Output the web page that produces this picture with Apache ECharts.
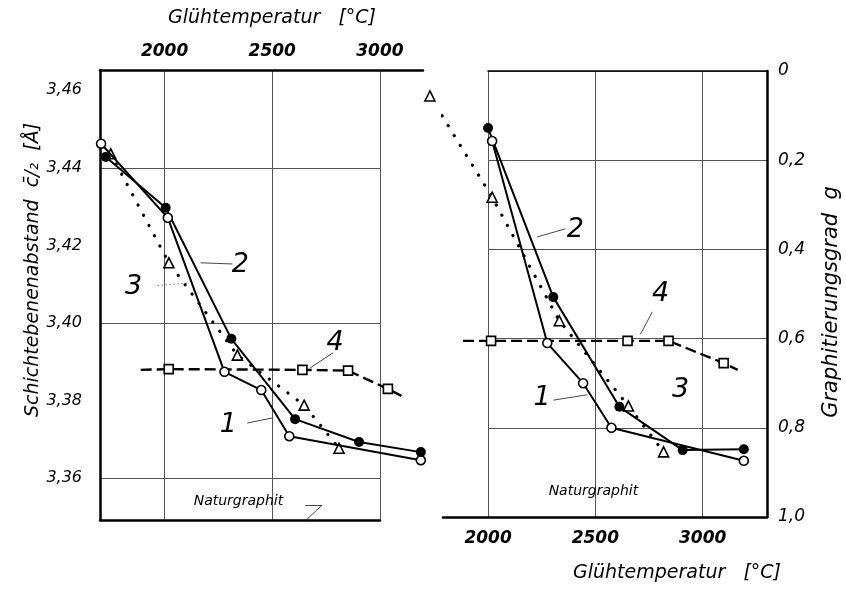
<!DOCTYPE html>
<html><head><meta charset="utf-8">
<script src="https://cdn.jsdelivr.net/npm/echarts@6/dist/echarts.min.js"></script>
<style>html,body{margin:0;padding:0;background:#fff}#c{width:846px;height:589px}</style>
</head><body><div id="c"></div>
<script>
// ---- Left panel: Schichtebenenabstand c/2 [Å] vs Glühtemperatur [°C]
const leftT1 = [1705, 2015, 2278, 2449, 2579, 3190];
const leftC1 = [3.4462, 3.4271, 3.3874, 3.3827, 3.3708, 3.3646];
const leftT2 = [1727, 2005, 2310, 2606, 2903, 3190];
const leftC2 = [3.4428, 3.4297, 3.3959, 3.3752, 3.3693, 3.3667];
const leftT3 = [1750, 2020, 2338, 2648, 2810];
const leftC3 = [3.4436, 3.4155, 3.3917, 3.3788, 3.3677];
const leftT4 = [1889, 2019, 2640, 2852, 3037, 3100];
const leftC4 = [3.3879, 3.3881, 3.3879, 3.3877, 3.3830, 3.3812];
const leftM4 = [false, true, true, true, true, false];
// ---- Right panel: Graphitierungsgrad g vs Glühtemperatur [°C]
const rightT1 = [2019, 2276, 2443, 2575, 3192];
const rightG1 = [0.157, 0.61, 0.70, 0.80, 0.874];
const rightT2 = [2000, 2304, 2612, 2907, 3192];
const rightG2 = [0.128, 0.507, 0.753, 0.85, 0.848];
const rightT3 = [1729, 2019, 2332, 2654, 2818];
const rightG3 = [0.056, 0.283, 0.56, 0.751, 0.854];
const rightT4 = [1883, 2014, 2650, 2841, 3098, 3163];
const rightG4 = [0.605, 0.605, 0.605, 0.605, 0.655, 0.67];
const rightM4 = [false, true, true, true, true, false];
// ---- Tick labels
const tempTicks = [2000, 2500, 3000];
const cTicks = [3.36, 3.38, 3.40, 3.42, 3.44, 3.46];
const cGridValues = [3.36, 3.40, 3.44];
const gInterval = 0.2;

const FONT = 'DejaVu Sans';
const pairs = (xs, ys) => xs.map((x, i) => [x, ys[i]]);
const comma = (v, d) => v.toFixed(d).replace('.', ',');

// annotation anchors (data coordinates)
const leftNotes = [
  {text: '1', at: [2296, 3.3737], from: [2384, 3.3742], to: [2500, 3.3755], dotted: false},
  {text: '2', at: [2352, 3.4150], from: [2167, 3.4155], to: [2315, 3.4152], dotted: false},
  {text: '3', at: [1856, 3.4093], from: [1968, 3.4096], to: [2106, 3.4103], dotted: true},
  {text: '4', at: [2792, 3.3948], from: [2676, 3.3884], to: [2782, 3.3923], dotted: false}
];
const leftNatur = {at: [2343, 3.3541], hook: [[2653, 3.3530], [2731, 3.3530], [2657, 3.3492]]};
const rightNotes = [
  {text: '1', at: [2252, 0.733], from: [2304, 0.738], to: [2463, 0.726], dotted: false},
  {text: '2', at: [2407, 0.3565], from: [2229, 0.372], to: [2360, 0.354], dotted: false},
  {text: '3', at: [2897, 0.715], from: null, to: null, dotted: false},
  {text: '4', at: [2804, 0.50], from: [2710, 0.59], to: [2766, 0.54], dotted: false}
];
const rightNatur = {at: [2491, 0.942]};

function notesMarkPoint(notes, natur) {
  const data = notes.map(n => ({coord: n.at, name: n.text,
    label: {formatter: n.text, fontSize: 27, fontStyle: 'italic', fontFamily: FONT, color: '#000'}}));
  data.push({coord: natur.at, name: 'Naturgraphit',
    label: {formatter: 'Naturgraphit', fontSize: 14, fontStyle: 'italic', fontFamily: FONT, color: '#000'}});
  return {symbol: 'circle', symbolSize: 0, silent: true, label: {show: true, position: 'inside'}, data};
}
function notesMarkLine(notes, natur) {
  const data = [];
  notes.forEach(n => {
    if (n.from) data.push([{coord: n.from, lineStyle: {type: n.dotted ? [1, 3] : 'solid'}}, {coord: n.to}]);
  });
  if (natur.hook) {
    data.push([{coord: natur.hook[0]}, {coord: natur.hook[1]}]);
    data.push([{coord: natur.hook[1]}, {coord: natur.hook[2]}]);
  }
  return {symbol: ['none', 'none'], silent: true, label: {show: false},
    lineStyle: {color: '#333', width: 0.9, type: 'solid'}, emphasis: {disabled: true}, data};
}

const openStyle = {color: '#fff', borderColor: '#000', borderWidth: 1.6};
const solidLine = {color: '#000', width: 2};
const dotLine = {color: '#000', width: 3.2, type: [0.1, 11.5], cap: 'round'};
const dashLine = {color: '#000', width: 2.4, type: [11, 5]};

function panelSeries(gi, T1, Y1, T2, Y2, T3, Y3, T4, Y4, M4, notes, natur) {
  return [
    {type: 'line', xAxisIndex: gi, yAxisIndex: gi, data: pairs(T1, Y1), symbol: 'circle', symbolSize: 9,
      itemStyle: openStyle, lineStyle: solidLine, z: 4, clip: false,
      markPoint: notesMarkPoint(notes, natur), markLine: notesMarkLine(notes, natur)},
    {type: 'line', xAxisIndex: gi, yAxisIndex: gi, data: pairs(T2, Y2), symbol: 'circle', symbolSize: 10,
      itemStyle: {color: '#000'}, lineStyle: solidLine, z: 4, clip: false},
    {type: 'line', xAxisIndex: gi, yAxisIndex: gi, data: pairs(T3, Y3), symbol: 'triangle', symbolSize: 10,
      itemStyle: openStyle, lineStyle: dotLine, z: 3, clip: false},
    {type: 'line', xAxisIndex: gi, yAxisIndex: gi,
      data: T4.map((t, i) => ({value: [t, Y4[i]], symbol: M4[i] ? 'rect' : 'none'})),
      symbol: 'rect', symbolSize: 9, itemStyle: openStyle, lineStyle: dashLine, z: 3, clip: false}
  ];
}

const gridLine = {show: true, lineStyle: {color: '#555', width: 1}};
const thick = {show: true, onZero: false, lineStyle: {color: '#000', width: 2.5}};
const nameStyle = {fontFamily: FONT, fontStyle: 'italic', color: '#000'};
const tempLabel = {customValues: tempTicks, formatter: v => String(v), fontSize: 17, fontWeight: 'bold',
  fontStyle: 'italic', fontFamily: FONT, color: '#000'};

const option = {
  animation: false,
  backgroundColor: '#fff',
  grid: [
    {left: 100, top: 70, width: 323, height: 450},
    {left: 100, top: 70, width: 280, height: 450},
    {left: 443, top: 71, width: 324, height: 446},
    {left: 488, top: 71, width: 279, height: 446}
  ],
  xAxis: [
    {gridIndex: 0, type: 'value', position: 'top', min: 1700, max: 3200,
      axisLine: thick, axisTick: {show: false}, splitLine: {show: false},
      axisLabel: Object.assign({margin: 10}, tempLabel),
      name: 'Glühtemperatur   [°C]', nameLocation: 'middle', nameGap: 42,
      nameTextStyle: Object.assign({fontSize: 19, padding: [0, 0, 0, 21]}, nameStyle)},
    {gridIndex: 1, type: 'value', position: 'bottom', min: 1700, max: 3000,
      axisLine: thick, axisTick: {show: false, customValues: tempTicks}, axisLabel: {show: false}, splitLine: gridLine},
    {gridIndex: 2, type: 'value', position: 'bottom', min: 1790, max: 3300,
      axisLine: thick, axisTick: {show: false}, splitLine: {show: false},
      axisLabel: Object.assign({margin: 13}, tempLabel),
      name: 'Glühtemperatur   [°C]', nameLocation: 'middle', nameGap: 47,
      nameTextStyle: Object.assign({fontSize: 19, padding: [0, 0, 0, 144]}, nameStyle)},
    {gridIndex: 3, type: 'value', position: 'top', min: 2000, max: 3300, interval: 500,
      axisLine: {show: true, onZero: false, lineStyle: {color: '#000', width: 1.5}},
      axisTick: {show: false}, axisLabel: {show: false}, splitLine: gridLine}
  ],
  yAxis: [
    {gridIndex: 0, type: 'value', min: 3.3492, max: 3.4652,
      axisLine: {show: false}, axisTick: {show: false}, splitLine: {show: false},
      axisLabel: {customValues: cTicks, formatter: v => comma(v, 2), fontSize: 16, fontStyle: 'italic', fontFamily: FONT, color: '#000', margin: 18},
      name: 'Schichtebenenabstand  c\u0304/\u2082  [Å]', nameLocation: 'middle', nameRotate: 90, nameGap: 57,
      nameTextStyle: Object.assign({fontSize: 19, padding: [0, 0, 0, 50]}, nameStyle)},
    {gridIndex: 1, type: 'value', min: 3.3492, max: 3.4652,
      axisLine: thick, axisTick: {show: false, customValues: cGridValues}, axisLabel: {show: false}, splitLine: gridLine},
    {gridIndex: 2, type: 'value', position: 'right', min: 0, max: 1, interval: gInterval, inverse: true,
      axisLine: thick, axisTick: {show: false}, splitLine: {show: false},
      axisLabel: {formatter: v => (v === 0 ? '0' : comma(v, 1)), fontSize: 17, fontStyle: 'italic', fontFamily: FONT, color: '#000', margin: 11},
      name: 'Graphitierungsgrad  g', nameLocation: 'middle', nameRotate: 90, nameGap: 54,
      nameTextStyle: Object.assign({fontSize: 21, padding: [0, 16, 0, 0]}, nameStyle)},
    {gridIndex: 3, type: 'value', min: 0, max: 1, interval: gInterval, inverse: true,
      axisLine: {show: false}, axisTick: {show: false}, axisLabel: {show: false}, splitLine: gridLine}
  ],
  series: [].concat(
    panelSeries(0, leftT1, leftC1, leftT2, leftC2, leftT3, leftC3, leftT4, leftC4, leftM4, leftNotes, leftNatur),
    panelSeries(2, rightT1, rightG1, rightT2, rightG2, rightT3, rightG3, rightT4, rightG4, rightM4, rightNotes, rightNatur)
  )
};
const chart = echarts.init(document.getElementById('c'), null, {renderer: 'canvas'});
chart.setOption(option);
</script>
</body></html>
